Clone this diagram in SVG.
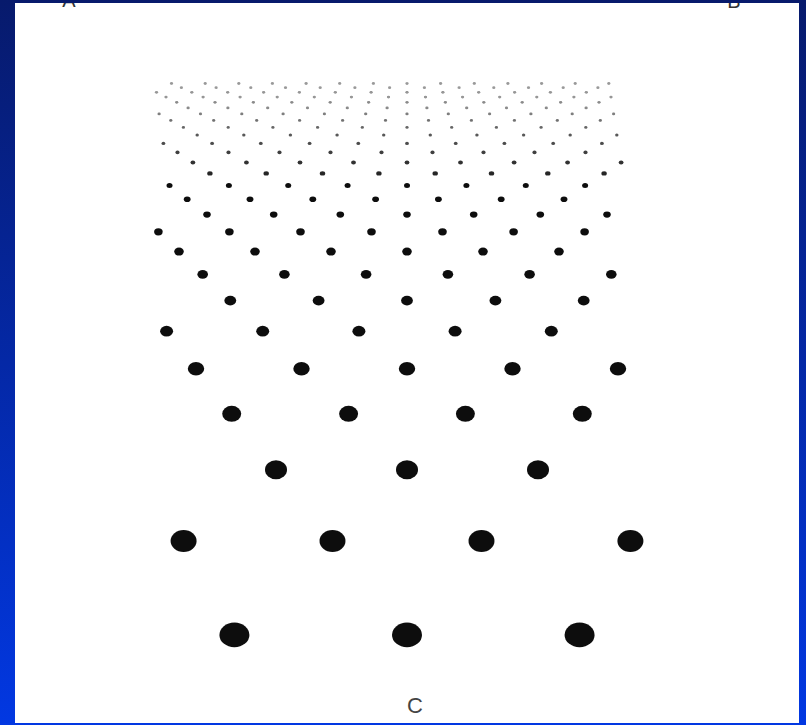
<svg xmlns="http://www.w3.org/2000/svg" width="806" height="725" viewBox="0 0 806 725">
<defs>
<linearGradient id="bg" x1="0" y1="0" x2="0" y2="1">
<stop offset="0" stop-color="#071a6c"/>
<stop offset="0.5" stop-color="#0428a6"/>
<stop offset="1" stop-color="#0238e2"/>
</linearGradient>
<clipPath id="panelClip"><rect x="15" y="3" width="784" height="720"/></clipPath>
<filter id="soft" x="-5%" y="-5%" width="110%" height="110%"><feGaussianBlur stdDeviation="0.6"/></filter>
</defs>
<style>
.lbl{font-family:"Liberation Sans",Arial,sans-serif;fill:#333}
.d ellipse{fill:#111}
</style>
<rect width="806" height="725" fill="url(#bg)"/>
<rect id="panel" x="15" y="3" width="784" height="720" fill="#ffffff"/>
<g clip-path="url(#panelClip)">
<text class="lbl" x="69" y="6.5" font-size="20" text-anchor="middle">A</text>
<text class="lbl" x="734" y="8" font-size="20" text-anchor="middle">B</text>
</g>
<g id="texture" class="d" filter="url(#soft)">
<g id="row0"><ellipse cx="234.4" cy="634.9" rx="15" ry="12.3"/><ellipse cx="407" cy="634.9" rx="15" ry="12.3"/><ellipse cx="579.6" cy="634.9" rx="15" ry="12.3"/></g>
<g id="row1"><ellipse cx="183.6" cy="541" rx="13" ry="11"/><ellipse cx="332.5" cy="541" rx="13" ry="11"/><ellipse cx="481.5" cy="541" rx="13" ry="11"/><ellipse cx="630.4" cy="541" rx="13" ry="11"/></g>
<g id="row2"><ellipse cx="276" cy="469.8" rx="11" ry="9.5"/><ellipse cx="407" cy="469.8" rx="11" ry="9.5"/><ellipse cx="538" cy="469.8" rx="11" ry="9.5"/></g>
<g id="row3"><ellipse cx="231.7" cy="413.8" rx="9.5" ry="8"/><ellipse cx="348.6" cy="413.8" rx="9.5" ry="8"/><ellipse cx="465.4" cy="413.8" rx="9.5" ry="8"/><ellipse cx="582.3" cy="413.8" rx="9.5" ry="8"/></g>
<g id="row4"><ellipse cx="196" cy="368.8" rx="8.2" ry="6.8"/><ellipse cx="301.5" cy="368.8" rx="8.2" ry="6.8"/><ellipse cx="407" cy="368.8" rx="8.2" ry="6.8"/><ellipse cx="512.5" cy="368.8" rx="8.2" ry="6.8"/><ellipse cx="618" cy="368.8" rx="8.2" ry="6.8"/></g>
<g id="row5"><ellipse cx="166.6" cy="331.2" rx="6.5" ry="5.4"/><ellipse cx="262.7" cy="331.2" rx="6.5" ry="5.4"/><ellipse cx="358.9" cy="331.2" rx="6.5" ry="5.4"/><ellipse cx="455.1" cy="331.2" rx="6.5" ry="5.4"/><ellipse cx="551.3" cy="331.2" rx="6.5" ry="5.4"/></g>
<g id="row6"><ellipse cx="230.3" cy="300.6" rx="5.9" ry="4.9"/><ellipse cx="318.6" cy="300.6" rx="5.9" ry="4.9"/><ellipse cx="407" cy="300.6" rx="5.9" ry="4.9"/><ellipse cx="495.4" cy="300.6" rx="5.9" ry="4.9"/><ellipse cx="583.7" cy="300.6" rx="5.9" ry="4.9"/></g>
<g id="row7"><ellipse cx="202.7" cy="274.3" rx="5.3" ry="4.4"/><ellipse cx="284.4" cy="274.3" rx="5.3" ry="4.4"/><ellipse cx="366.1" cy="274.3" rx="5.3" ry="4.4"/><ellipse cx="447.9" cy="274.3" rx="5.3" ry="4.4"/><ellipse cx="529.6" cy="274.3" rx="5.3" ry="4.4"/><ellipse cx="611.3" cy="274.3" rx="5.3" ry="4.4"/></g>
<g id="row8"><ellipse cx="179" cy="251.6" rx="4.8" ry="4"/><ellipse cx="255" cy="251.6" rx="4.8" ry="4"/><ellipse cx="331" cy="251.6" rx="4.8" ry="4"/><ellipse cx="407" cy="251.6" rx="4.8" ry="4"/><ellipse cx="483" cy="251.6" rx="4.8" ry="4"/><ellipse cx="559" cy="251.6" rx="4.8" ry="4"/></g>
<g id="row9"><ellipse cx="158.4" cy="231.8" rx="4.3" ry="3.6"/><ellipse cx="229.4" cy="231.8" rx="4.3" ry="3.6"/><ellipse cx="300.5" cy="231.8" rx="4.3" ry="3.6"/><ellipse cx="371.5" cy="231.8" rx="4.3" ry="3.6"/><ellipse cx="442.5" cy="231.8" rx="4.3" ry="3.6"/><ellipse cx="513.6" cy="231.8" rx="4.3" ry="3.6"/><ellipse cx="584.6" cy="231.8" rx="4.3" ry="3.6"/></g>
<g id="row10"><ellipse cx="207" cy="214.6" rx="3.8" ry="3.1"/><ellipse cx="273.7" cy="214.6" rx="3.8" ry="3.1"/><ellipse cx="340.3" cy="214.6" rx="3.8" ry="3.1"/><ellipse cx="407" cy="214.6" rx="3.8" ry="3.1"/><ellipse cx="473.7" cy="214.6" rx="3.8" ry="3.1"/><ellipse cx="540.3" cy="214.6" rx="3.8" ry="3.1"/><ellipse cx="607" cy="214.6" rx="3.8" ry="3.1"/></g>
<g id="row11"><ellipse cx="187.2" cy="199.3" rx="3.4" ry="2.8"/><ellipse cx="250" cy="199.3" rx="3.4" ry="2.8"/><ellipse cx="312.8" cy="199.3" rx="3.4" ry="2.8"/><ellipse cx="375.6" cy="199.3" rx="3.4" ry="2.8"/><ellipse cx="438.4" cy="199.3" rx="3.4" ry="2.8"/><ellipse cx="501.2" cy="199.3" rx="3.4" ry="2.8"/><ellipse cx="564" cy="199.3" rx="3.4" ry="2.8"/></g>
<g id="row12"><ellipse cx="169.5" cy="185.6" rx="3" ry="2.5"/><ellipse cx="228.9" cy="185.6" rx="3" ry="2.5"/><ellipse cx="288.2" cy="185.6" rx="3" ry="2.5"/><ellipse cx="347.6" cy="185.6" rx="3" ry="2.5"/><ellipse cx="407" cy="185.6" rx="3" ry="2.5"/><ellipse cx="466.4" cy="185.6" rx="3" ry="2.5"/><ellipse cx="525.8" cy="185.6" rx="3" ry="2.5"/><ellipse cx="585.1" cy="185.6" rx="3" ry="2.5"/></g>
<g id="row13" style="opacity:0.9"><ellipse cx="209.9" cy="173.4" rx="2.7" ry="2.2"/><ellipse cx="266.2" cy="173.4" rx="2.7" ry="2.2"/><ellipse cx="322.5" cy="173.4" rx="2.7" ry="2.2"/><ellipse cx="378.9" cy="173.4" rx="2.7" ry="2.2"/><ellipse cx="435.2" cy="173.4" rx="2.7" ry="2.2"/><ellipse cx="491.5" cy="173.4" rx="2.7" ry="2.2"/><ellipse cx="547.8" cy="173.4" rx="2.7" ry="2.2"/><ellipse cx="604.1" cy="173.4" rx="2.7" ry="2.2"/></g>
<g id="row14" style="opacity:0.85"><ellipse cx="192.9" cy="162.4" rx="2.4" ry="2"/><ellipse cx="246.4" cy="162.4" rx="2.4" ry="2"/><ellipse cx="300" cy="162.4" rx="2.4" ry="2"/><ellipse cx="353.5" cy="162.4" rx="2.4" ry="2"/><ellipse cx="407" cy="162.4" rx="2.4" ry="2"/><ellipse cx="460.5" cy="162.4" rx="2.4" ry="2"/><ellipse cx="514.1" cy="162.4" rx="2.4" ry="2"/><ellipse cx="567.6" cy="162.4" rx="2.4" ry="2"/><ellipse cx="621.1" cy="162.4" rx="2.4" ry="2"/></g>
<g id="row15" style="opacity:0.8"><ellipse cx="177.5" cy="152.4" rx="2.1" ry="1.8"/><ellipse cx="228.5" cy="152.4" rx="2.1" ry="1.8"/><ellipse cx="279.5" cy="152.4" rx="2.1" ry="1.8"/><ellipse cx="330.5" cy="152.4" rx="2.1" ry="1.8"/><ellipse cx="381.5" cy="152.4" rx="2.1" ry="1.8"/><ellipse cx="432.5" cy="152.4" rx="2.1" ry="1.8"/><ellipse cx="483.5" cy="152.4" rx="2.1" ry="1.8"/><ellipse cx="534.5" cy="152.4" rx="2.1" ry="1.8"/><ellipse cx="585.5" cy="152.4" rx="2.1" ry="1.8"/></g>
<g id="row16" style="opacity:0.75"><ellipse cx="163.4" cy="143.4" rx="1.9" ry="1.6"/><ellipse cx="212.1" cy="143.4" rx="1.9" ry="1.6"/><ellipse cx="260.8" cy="143.4" rx="1.9" ry="1.6"/><ellipse cx="309.6" cy="143.4" rx="1.9" ry="1.6"/><ellipse cx="358.3" cy="143.4" rx="1.9" ry="1.6"/><ellipse cx="407" cy="143.4" rx="1.9" ry="1.6"/><ellipse cx="455.7" cy="143.4" rx="1.9" ry="1.6"/><ellipse cx="504.4" cy="143.4" rx="1.9" ry="1.6"/><ellipse cx="553.2" cy="143.4" rx="1.9" ry="1.6"/><ellipse cx="601.9" cy="143.4" rx="1.9" ry="1.6"/></g>
<g id="row17" style="opacity:0.7"><ellipse cx="197.2" cy="135.1" rx="1.7" ry="1.5"/><ellipse cx="243.8" cy="135.1" rx="1.7" ry="1.5"/><ellipse cx="290.4" cy="135.1" rx="1.7" ry="1.5"/><ellipse cx="337.1" cy="135.1" rx="1.7" ry="1.5"/><ellipse cx="383.7" cy="135.1" rx="1.7" ry="1.5"/><ellipse cx="430.3" cy="135.1" rx="1.7" ry="1.5"/><ellipse cx="476.9" cy="135.1" rx="1.7" ry="1.5"/><ellipse cx="523.6" cy="135.1" rx="1.7" ry="1.5"/><ellipse cx="570.2" cy="135.1" rx="1.7" ry="1.5"/><ellipse cx="616.8" cy="135.1" rx="1.7" ry="1.5"/></g>
<g id="row18" style="opacity:0.65"><ellipse cx="183.4" cy="127.4" rx="1.6" ry="1.4"/><ellipse cx="228.2" cy="127.4" rx="1.6" ry="1.4"/><ellipse cx="272.9" cy="127.4" rx="1.6" ry="1.4"/><ellipse cx="317.6" cy="127.4" rx="1.6" ry="1.4"/><ellipse cx="362.3" cy="127.4" rx="1.6" ry="1.4"/><ellipse cx="407" cy="127.4" rx="1.6" ry="1.4"/><ellipse cx="451.7" cy="127.4" rx="1.6" ry="1.4"/><ellipse cx="496.4" cy="127.4" rx="1.6" ry="1.4"/><ellipse cx="541.1" cy="127.4" rx="1.6" ry="1.4"/><ellipse cx="585.8" cy="127.4" rx="1.6" ry="1.4"/></g>
<g id="row19" style="opacity:0.6"><ellipse cx="170.8" cy="120.4" rx="1.6" ry="1.4"/><ellipse cx="213.7" cy="120.4" rx="1.6" ry="1.4"/><ellipse cx="256.7" cy="120.4" rx="1.6" ry="1.4"/><ellipse cx="299.6" cy="120.4" rx="1.6" ry="1.4"/><ellipse cx="342.6" cy="120.4" rx="1.6" ry="1.4"/><ellipse cx="385.5" cy="120.4" rx="1.6" ry="1.4"/><ellipse cx="428.5" cy="120.4" rx="1.6" ry="1.4"/><ellipse cx="471.4" cy="120.4" rx="1.6" ry="1.4"/><ellipse cx="514.4" cy="120.4" rx="1.6" ry="1.4"/><ellipse cx="557.3" cy="120.4" rx="1.6" ry="1.4"/><ellipse cx="600.3" cy="120.4" rx="1.6" ry="1.4"/></g>
<g id="row20" style="opacity:0.55"><ellipse cx="159.1" cy="113.9" rx="1.6" ry="1.4"/><ellipse cx="200.5" cy="113.9" rx="1.6" ry="1.4"/><ellipse cx="241.8" cy="113.9" rx="1.6" ry="1.4"/><ellipse cx="283.1" cy="113.9" rx="1.6" ry="1.4"/><ellipse cx="324.4" cy="113.9" rx="1.6" ry="1.4"/><ellipse cx="365.7" cy="113.9" rx="1.6" ry="1.4"/><ellipse cx="407" cy="113.9" rx="1.6" ry="1.4"/><ellipse cx="448.3" cy="113.9" rx="1.6" ry="1.4"/><ellipse cx="489.6" cy="113.9" rx="1.6" ry="1.4"/><ellipse cx="530.9" cy="113.9" rx="1.6" ry="1.4"/><ellipse cx="572.2" cy="113.9" rx="1.6" ry="1.4"/><ellipse cx="613.6" cy="113.9" rx="1.6" ry="1.4"/></g>
<g id="row21" style="opacity:0.5"><ellipse cx="188.1" cy="107.9" rx="1.6" ry="1.4"/><ellipse cx="227.9" cy="107.9" rx="1.6" ry="1.4"/><ellipse cx="267.7" cy="107.9" rx="1.6" ry="1.4"/><ellipse cx="307.5" cy="107.9" rx="1.6" ry="1.4"/><ellipse cx="347.3" cy="107.9" rx="1.6" ry="1.4"/><ellipse cx="387.1" cy="107.9" rx="1.6" ry="1.4"/><ellipse cx="426.9" cy="107.9" rx="1.6" ry="1.4"/><ellipse cx="466.7" cy="107.9" rx="1.6" ry="1.4"/><ellipse cx="506.5" cy="107.9" rx="1.6" ry="1.4"/><ellipse cx="546.3" cy="107.9" rx="1.6" ry="1.4"/><ellipse cx="586.1" cy="107.9" rx="1.6" ry="1.4"/></g>
<g id="row22" style="opacity:0.5"><ellipse cx="176.7" cy="102.3" rx="1.6" ry="1.4"/><ellipse cx="215" cy="102.3" rx="1.6" ry="1.4"/><ellipse cx="253.4" cy="102.3" rx="1.6" ry="1.4"/><ellipse cx="291.8" cy="102.3" rx="1.6" ry="1.4"/><ellipse cx="330.2" cy="102.3" rx="1.6" ry="1.4"/><ellipse cx="368.6" cy="102.3" rx="1.6" ry="1.4"/><ellipse cx="407" cy="102.3" rx="1.6" ry="1.4"/><ellipse cx="445.4" cy="102.3" rx="1.6" ry="1.4"/><ellipse cx="483.8" cy="102.3" rx="1.6" ry="1.4"/><ellipse cx="522.2" cy="102.3" rx="1.6" ry="1.4"/><ellipse cx="560.6" cy="102.3" rx="1.6" ry="1.4"/><ellipse cx="599" cy="102.3" rx="1.6" ry="1.4"/></g>
<g id="row23" style="opacity:0.45"><ellipse cx="166" cy="97.1" rx="1.6" ry="1.4"/><ellipse cx="203.1" cy="97.1" rx="1.6" ry="1.4"/><ellipse cx="240.1" cy="97.1" rx="1.6" ry="1.4"/><ellipse cx="277.2" cy="97.1" rx="1.6" ry="1.4"/><ellipse cx="314.3" cy="97.1" rx="1.6" ry="1.4"/><ellipse cx="351.4" cy="97.1" rx="1.6" ry="1.4"/><ellipse cx="388.5" cy="97.1" rx="1.6" ry="1.4"/><ellipse cx="425.5" cy="97.1" rx="1.6" ry="1.4"/><ellipse cx="462.6" cy="97.1" rx="1.6" ry="1.4"/><ellipse cx="499.7" cy="97.1" rx="1.6" ry="1.4"/><ellipse cx="536.8" cy="97.1" rx="1.6" ry="1.4"/><ellipse cx="573.9" cy="97.1" rx="1.6" ry="1.4"/><ellipse cx="611" cy="97.1" rx="1.6" ry="1.4"/></g>
<g id="row24" style="opacity:0.45"><ellipse cx="156.5" cy="92.3" rx="1.6" ry="1.4"/><ellipse cx="191.8" cy="92.3" rx="1.6" ry="1.4"/><ellipse cx="227.7" cy="92.3" rx="1.6" ry="1.4"/><ellipse cx="263.6" cy="92.3" rx="1.6" ry="1.4"/><ellipse cx="299.4" cy="92.3" rx="1.6" ry="1.4"/><ellipse cx="335.3" cy="92.3" rx="1.6" ry="1.4"/><ellipse cx="371.1" cy="92.3" rx="1.6" ry="1.4"/><ellipse cx="407" cy="92.3" rx="1.6" ry="1.4"/><ellipse cx="442.9" cy="92.3" rx="1.6" ry="1.4"/><ellipse cx="478.7" cy="92.3" rx="1.6" ry="1.4"/><ellipse cx="514.6" cy="92.3" rx="1.6" ry="1.4"/><ellipse cx="550.4" cy="92.3" rx="1.6" ry="1.4"/><ellipse cx="586.3" cy="92.3" rx="1.6" ry="1.4"/></g>
<g id="row25" style="opacity:0.4"><ellipse cx="181.4" cy="87.7" rx="1.6" ry="1.4"/><ellipse cx="216.1" cy="87.7" rx="1.6" ry="1.4"/><ellipse cx="250.8" cy="87.7" rx="1.6" ry="1.4"/><ellipse cx="285.5" cy="87.7" rx="1.6" ry="1.4"/><ellipse cx="320.2" cy="87.7" rx="1.6" ry="1.4"/><ellipse cx="354.9" cy="87.7" rx="1.6" ry="1.4"/><ellipse cx="389.6" cy="87.7" rx="1.6" ry="1.4"/><ellipse cx="424.4" cy="87.7" rx="1.6" ry="1.4"/><ellipse cx="459.1" cy="87.7" rx="1.6" ry="1.4"/><ellipse cx="493.8" cy="87.7" rx="1.6" ry="1.4"/><ellipse cx="528.5" cy="87.7" rx="1.6" ry="1.4"/><ellipse cx="563.2" cy="87.7" rx="1.6" ry="1.4"/><ellipse cx="597.9" cy="87.7" rx="1.6" ry="1.4"/></g>
<g id="row26" style="opacity:0.4"><ellipse cx="171.5" cy="83.5" rx="1.6" ry="1.4"/><ellipse cx="205.2" cy="83.5" rx="1.6" ry="1.4"/><ellipse cx="238.8" cy="83.5" rx="1.6" ry="1.4"/><ellipse cx="272.4" cy="83.5" rx="1.6" ry="1.4"/><ellipse cx="306.1" cy="83.5" rx="1.6" ry="1.4"/><ellipse cx="339.7" cy="83.5" rx="1.6" ry="1.4"/><ellipse cx="373.4" cy="83.5" rx="1.6" ry="1.4"/><ellipse cx="407" cy="83.5" rx="1.6" ry="1.4"/><ellipse cx="440.6" cy="83.5" rx="1.6" ry="1.4"/><ellipse cx="474.3" cy="83.5" rx="1.6" ry="1.4"/><ellipse cx="507.9" cy="83.5" rx="1.6" ry="1.4"/><ellipse cx="541.6" cy="83.5" rx="1.6" ry="1.4"/><ellipse cx="575.2" cy="83.5" rx="1.6" ry="1.4"/><ellipse cx="608.8" cy="83.5" rx="1.6" ry="1.4"/></g>
</g>
<text id="labelC" class="lbl" x="415" y="713" font-size="22" text-anchor="middle" style="fill:#444">C</text>
</svg>
